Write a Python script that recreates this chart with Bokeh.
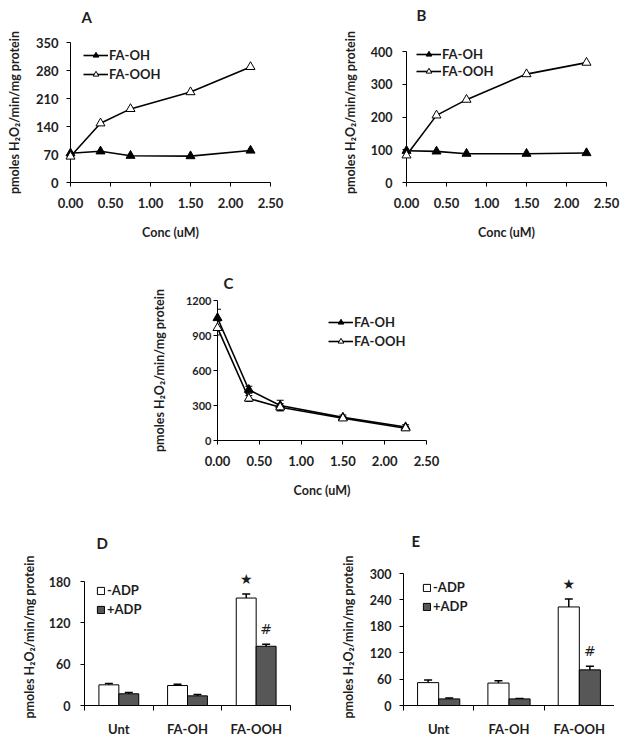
from bokeh.plotting import figure
from bokeh.models import (Range1d, FixedTicker, NumeralTickFormatter, Legend, LegendItem,
                          Label, LabelSet, Whisker, TeeHead, ColumnDataSource)
from bokeh.layouts import column, row
from bokeh.embed import file_html
from bokeh.resources import INLINE
from bokeh.core.properties import value

FONT = "Lato"
TXT = "#1e1e1e"
YLABEL = "pmoles H\u2082O\u2082/min/mg protein"
XLABEL = "Conc (uM)"

# ---------------- data ----------------
conc = [0.0, 0.375, 0.75, 1.5, 2.25]
conc_ticks = [0.0, 0.5, 1.0, 1.5, 2.0, 2.5]
series_names = ["FA-OH", "FA-OOH"]

a_fa_oh = [73, 78, 67, 66, 80]
a_fa_ooh = [65, 148, 184, 226, 289]
a_yticks = [0, 70, 140, 210, 280, 350]

b_fa_oh = [97, 95, 88, 88, 90]
b_fa_ooh = [83, 205, 253, 331, 366]
b_yticks = [0, 100, 200, 300, 400]

c_fa_oh = [1050, 435, 300, 198, 115]
c_fa_ooh = [965, 360, 285, 190, 105]
c_fa_oh_err = [75, 30, 45, 20, 20]
c_fa_ooh_err = [60, 25, 30, 15, 15]
c_yticks = [0, 300, 600, 900, 1200]

categories = ["Unt", "FA-OH", "FA-OOH"]
bar_names = ["-ADP", "+ADP"]

d_minus = [30, 29, 156]
d_minus_err = [2, 2, 6]
d_plus = [17, 14, 86]
d_plus_err = [2, 2, 3]
d_sig_minus = ["", "", "\u2605"]
d_sig_plus = ["", "", "#"]
d_yticks = [0, 60, 120, 180]

e_minus = [52, 51, 224]
e_minus_err = [6, 5, 18]
e_plus = [15, 15, 81]
e_plus_err = [2, 1, 8]
e_sig_minus = ["", "", "\u2605"]
e_sig_plus = ["", "", "#"]
e_yticks = [0, 60, 120, 180, 240, 300]


def base_fig(fw, fh, left, right, top, bottom, xr, yr):
    p = figure(frame_width=fw, frame_height=fh,
               min_border_left=left, min_border_right=right,
               min_border_top=top, min_border_bottom=bottom, toolbar_location=None,
               output_backend="svg", x_range=xr, y_range=yr, title=None)
    p.xgrid.visible = False
    p.ygrid.visible = False
    p.outline_line_color = None
    p.background_fill_color = "white"
    p.border_fill_color = "white"
    return p


def style_axis(ax, tick_size, label_standoff, axis_label, axis_label_standoff, tick_out=4):
    ax.axis_line_color = "black"
    ax.axis_line_width = 1
    ax.major_tick_line_color = "black"
    ax.major_tick_out = tick_out
    ax.major_tick_in = 0
    ax.minor_tick_line_color = None
    ax.major_label_text_font = FONT
    ax.major_label_text_font_style = "bold"
    ax.major_label_text_font_size = tick_size
    ax.major_label_text_color = TXT
    ax.major_label_standoff = label_standoff
    ax.axis_label = axis_label
    ax.axis_label_text_font = FONT
    ax.axis_label_text_font_style = "bold"
    ax.axis_label_text_font_size = "12.5px"
    ax.axis_label_text_color = TXT
    ax.axis_label_standoff = axis_label_standoff


def style_legend(lg, gw, gh, lh, spacing, loc, standoff, size="13px"):
    lg.location = loc
    lg.background_fill_alpha = 0
    lg.border_line_alpha = 0
    lg.padding = 0
    lg.margin = 0
    lg.spacing = spacing
    lg.glyph_width = gw
    lg.glyph_height = gh
    lg.label_height = lh
    lg.label_standoff = standoff
    lg.label_text_font = FONT
    lg.label_text_font_style = "bold"
    lg.label_text_font_size = size
    lg.label_text_color = TXT


def panel_letter(p, letter, top_tick, dx, dy):
    # anchored at the top of the y axis, placed in the side panel so it is not clipped
    p.add_layout(Label(x=0, y=top_tick, x_offset=dx, y_offset=dy, text=letter,
                       text_font=FONT, text_font_style="bold", text_font_size="15px",
                       text_color=TXT, text_align="left", text_baseline="middle"), "above")


def y_range_for(yticks, frame_h, axis_h):
    # frame may be taller than the drawn axis; keep the top tick at its place
    return Range1d(yticks[0], yticks[0] + (yticks[-1] - yticks[0]) * frame_h / axis_h)


def line_panel(fw, fh, axis_h, left, right, top, bottom, y1, y2, yticks, ytick_size,
               ylab_standoff, yaxlab_standoff, legend_loc, legend_spacing, letter, letter_off,
               err1=None, err2=None):
    p = base_fig(fw, fh, left, right, top, bottom, Range1d(0, 2.5),
                 y_range_for(yticks, fh, axis_h))
    p.xaxis.ticker = FixedTicker(ticks=conc_ticks)
    p.xaxis.formatter = NumeralTickFormatter(format="0.00")
    p.yaxis.ticker = FixedTicker(ticks=yticks)
    p.yaxis.bounds = (yticks[0], yticks[-1])
    style_axis(p.xaxis[0], "13px", 11, XLABEL, 14)
    style_axis(p.yaxis[0], ytick_size, ylab_standoff, YLABEL, yaxlab_standoff)

    for vals, err in ((y1, err1), (y2, err2)):
        if err is not None:
            src = ColumnDataSource(dict(x=conc, up=[v + e for v, e in zip(vals, err)],
                                        lo=[v - e for v, e in zip(vals, err)]))
            p.add_layout(Whisker(source=src, base="x", upper="up", lower="lo",
                                 line_color="black", line_width=1,
                                 upper_head=TeeHead(size=7, line_color="black", line_width=1),
                                 lower_head=TeeHead(size=7, line_color="black", line_width=1)))

    l1 = p.line(conc, y1, line_color="black", line_width=1.6, level="overlay")
    m1 = p.scatter(conc, y1, marker="triangle", size=9, fill_color="black",
                   line_color="black", level="overlay")
    l2 = p.line(conc, y2, line_color="black", line_width=1.6, level="overlay")
    m2 = p.scatter(conc, y2, marker="triangle", size=9, fill_color="white",
                   line_color="black", line_width=1, level="overlay")
    lg = Legend(items=[LegendItem(label=series_names[0], renderers=[l1, m1]),
                       LegendItem(label=series_names[1], renderers=[l2, m2])])
    style_legend(lg, 25, 14, 14, legend_spacing, legend_loc, 1)
    p.add_layout(lg)
    panel_letter(p, letter, yticks[-1], *letter_off)
    return p


def bar_panel(fw, fh, axis_h, left, right, top, bottom, minus, minus_err, plus, plus_err,
              sig_minus, sig_plus, yticks, ylab_standoff, yaxlab_standoff, legend_loc,
              letter, letter_off, w):
    n = len(categories)
    p = base_fig(fw, fh, left, right, top, bottom, Range1d(0, n),
                 y_range_for(yticks, fh, axis_h))
    centers = [i + 0.5 for i in range(n)]
    bounds = [float(i) for i in range(n + 1)]
    p.xaxis.ticker = FixedTicker(ticks=centers, minor_ticks=bounds)
    p.xaxis.major_label_overrides = {c: lab for c, lab in zip(centers, categories)}
    p.yaxis.ticker = FixedTicker(ticks=yticks)
    p.yaxis.bounds = (yticks[0], yticks[-1])
    style_axis(p.xaxis[0], "13px", 10, "", 0, tick_out=0)
    p.xaxis.major_tick_line_color = None
    p.xaxis.minor_tick_line_color = "black"
    p.xaxis.minor_tick_out = 5
    p.xaxis.minor_tick_in = 0
    style_axis(p.yaxis[0], "12.5px", ylab_standoff, YLABEL, yaxlab_standoff)

    xm = [c - w / 2 for c in centers]
    xp = [c + w / 2 for c in centers]
    rm = p.vbar(x=xm, top=minus, width=w, bottom=0, fill_color="white",
                line_color="black", line_width=1)
    rp = p.vbar(x=xp, top=plus, width=w, bottom=0, fill_color="#575757",
                line_color="black", line_width=1)
    for xs, vals, err in ((xm, minus, minus_err), (xp, plus, plus_err)):
        src = ColumnDataSource(dict(x=xs, up=[v + e for v, e in zip(vals, err)],
                                    lo=[v - e for v, e in zip(vals, err)]))
        p.add_layout(Whisker(source=src, base="x", upper="up", lower="lo",
                             line_color="black", line_width=1.5,
                             upper_head=TeeHead(size=8, line_color="black", line_width=1.5),
                             lower_head=TeeHead(size=8, line_color="black", line_width=1.5)))
    sx, sy, st = [], [], []
    for xs, vals, err, sig in ((xm, minus, minus_err, sig_minus), (xp, plus, plus_err, sig_plus)):
        for x_, v, e, s in zip(xs, vals, err, sig):
            if s:
                sx.append(x_)
                sy.append(v + e)
                st.append(s)
    ssrc = ColumnDataSource(dict(x=sx, y=sy, t=st))
    p.add_layout(LabelSet(x="x", y="y", text="t", source=ssrc, y_offset=15,
                          text_align="center", text_baseline="middle",
                          text_font=value("DejaVu Sans"), text_font_size="14px",
                          text_color=TXT))
    lg = Legend(items=[LegendItem(label=bar_names[0], renderers=[rm]),
                       LegendItem(label=bar_names[1], renderers=[rp])])
    style_legend(lg, 9, 9, 14, 3, legend_loc, 2)
    p.add_layout(lg)
    panel_letter(p, letter, yticks[-1], *letter_off)
    return p


pA = line_panel(200, 140, 140, 70, 69, 42, 62, a_fa_oh, a_fa_ooh, a_yticks, "13px", 8, 11,
                (13, 100), 3, "A", (11, 26))
pB = line_panel(200, 140, 131, 65, 16, 42, 62, b_fa_oh, b_fa_ooh, b_yticks, "12.5px", 10, 10,
                (10, 103), 1, "B", (10, 37))
pC = line_panel(209, 140, 140, 217, 185, 56, 59, c_fa_oh, c_fa_ooh, c_yticks, "11px", 2, 16,
                (111, 91), 3, "C", (6, 18), c_fa_oh_err, c_fa_ooh_err)
pD = bar_panel(206, 137, 124, 84, 43, 68, 27, d_minus, d_minus_err, d_plus, d_plus_err,
               d_sig_minus, d_sig_plus, d_yticks, 10, 9, (12, 88), "D", (12, 39), 0.29)
pE = bar_panel(211, 137, 132, 70, 0, 68, 27, e_minus, e_minus_err, e_plus, e_plus_err,
               e_sig_minus, e_sig_plus, e_yticks, 8, 11, (19, 91), "E", (8, 33), 0.30)

layout = column(row(pA, pB), pC, row(pD, pE))
open("out.html", "w").write(file_html(layout, INLINE))
